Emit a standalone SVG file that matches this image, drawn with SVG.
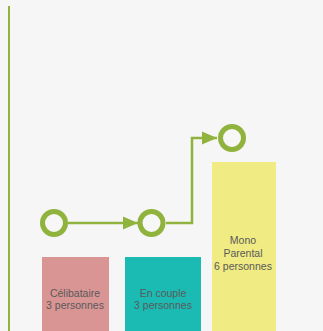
<svg xmlns="http://www.w3.org/2000/svg" width="323" height="331" viewBox="0 0 323 331">
<defs>
<style>
.bar text{font-family:"Liberation Sans",Arial,sans-serif;font-size:10.5px;fill:#5a5a5a;text-anchor:middle}
.node circle{fill:#f7f7f7;stroke:#8fb33c;stroke-width:5}
.conn{fill:none;stroke:#8fb33c;stroke-width:2.5}
</style>
<marker id="arr" viewBox="0 0 10 10" refX="10" refY="5" markerWidth="6" markerHeight="6" orient="auto" markerUnits="strokeWidth">
<path d="M0,0.6 L10,5 L0,9.4 Z" fill="#8fb33c"/>
</marker>
</defs>
<rect width="323" height="331" fill="#f6f6f6"/>
<line x1="9" y1="6" x2="9" y2="331" stroke="#8fb33c" stroke-width="2"/>
<g id="bar-celibataire" class="bar">
<rect x="42" y="257" width="67" height="74" fill="#d89594"/>
<text x="75" y="297">Célibataire</text>
<text x="75" y="309">3 personnes</text>
</g>
<g id="bar-couple" class="bar">
<rect x="125" y="257" width="76" height="74" fill="#1bbab2"/>
<text x="163" y="297">En couple</text>
<text x="163" y="309">3 personnes</text>
</g>
<g id="bar-mono" class="bar">
<rect x="212" y="162" width="64" height="169" fill="#f0eb83"/>
<text x="243" y="244">Mono</text>
<text x="243" y="257">Parental</text>
<text x="243" y="270">6 personnes</text>
</g>
<g id="connectors">
<path class="conn" d="M68,223 L138,223" marker-end="url(#arr)"/>
<path class="conn" d="M166,223 L192,223 L192,138 L217,138" marker-end="url(#arr)"/>
</g>
<g id="node1" class="node"><circle cx="54" cy="223" r="11.5"/></g>
<g id="node2" class="node"><circle cx="151.5" cy="223" r="11.5"/></g>
<g id="node3" class="node"><circle cx="232" cy="138" r="11.5"/></g>
</svg>
